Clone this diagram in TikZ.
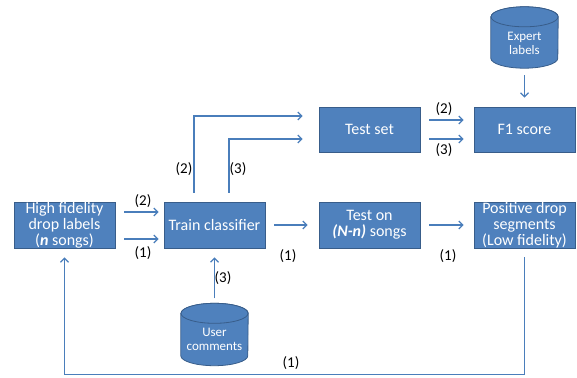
\documentclass[tikz,border=0pt]{standalone}
\usepackage{fontspec}
\setmainfont{Carlito}
\usetikzlibrary{arrows.meta,backgrounds}
\definecolor{boxfill}{HTML}{4F81BD}
\definecolor{boxline}{HTML}{385D8A}
\definecolor{arrowc}{HTML}{4A7EBB}

\begin{document}
\begin{tikzpicture}[x=1pt,y=-1pt,
  stepbox/.style={draw=boxline, fill=boxfill, line width=0.8pt,
    minimum width=101pt, minimum height=46pt, inner xsep=1pt, inner ysep=0pt,
    text=white, align=center, font=\fontsize{16}{16}\selectfont},
  tall/.style={inner ysep=-1.2pt},
  dbbody/.style={minimum width=67pt, minimum height=62pt, inner sep=0pt},
  dbshape/.style={draw=boxline, fill=boxfill, line width=0.8pt},
  dbtext/.style={text=white, align=center, inner sep=0pt,
    font=\fontsize{13}{13.5}\selectfont},
  flow/.style={draw=arrowc, line width=1.2pt,
    -{Straight Barb[length=4pt,width=8pt]}},
  tag/.style={text=black, inner sep=0pt, font=\fontsize{15}{16}\selectfont}
]
\useasboundingbox (0,0) rectangle (577,377);

% process boxes
\node[stepbox, tall] (hf) at (64.5,225) {High fidelity\\drop labels\\(\textbf{\textit{n}} songs)};
\node[stepbox] (train) at (214.5,225) {Train classifier};
\node[stepbox] (teston) at (369.5,225) {Test on\\\textbf{\textit{(N-n)}} songs};
\node[stepbox, tall] (pos) at (524.5,225) {Positive drop\\segments\\(Low fidelity)};
\node[stepbox, minimum height=45pt] (testset) at (369.5,129.5) {Test set};
\node[stepbox, minimum height=45pt] (f1) at (524.5,129.5) {F1 score};

% data stores
\node[dbbody] (user) at (214.5,334.5) {};
\node[dbbody, minimum height=61pt] (expert) at (524.5,37.5) {};
\node[dbtext] (usertxt) at ([yshift=-5pt]user.center) {User\\comments};
\node[dbtext] (experttxt) at ([yshift=-6pt]expert.center) {Expert\\labels};

\begin{scope}[on background layer]
  \foreach \d in {user,expert} {
    \path[dbshape] ([yshift=-10pt]\d.north west) -- ([yshift=10pt]\d.south west)
      arc[start angle=180, end angle=360, x radius=33.5pt, y radius=10pt]
      -- ([yshift=-10pt]\d.north east)
      arc[start angle=0, end angle=180, x radius=33.5pt, y radius=10pt] -- cycle;
    \path[dbshape] ([yshift=-10pt]\d.north) ellipse[x radius=33.5pt, y radius=10pt];
  }
\end{scope}

% connectors
\draw[flow, shorten <=9pt, shorten >=5pt] ([yshift=13pt]hf.east) -- ([yshift=13pt]train.west);
\draw[flow, shorten <=9pt, shorten >=5pt] ([yshift=-14pt]hf.east) -- ([yshift=-14pt]train.west);
\draw[flow, shorten <=9pt, shorten >=11pt] (train) -- (teston);
\draw[flow, shorten <=9pt, shorten >=10pt] (teston) -- (pos);
\draw[flow, shorten <=9pt, shorten >=10pt] ([yshift=9.5pt]testset.east) -- ([yshift=9.5pt]f1.west);
\draw[flow, shorten <=9pt, shorten >=10pt] ([yshift=-9.5pt]testset.east) -- ([yshift=-9.5pt]f1.west);
\draw[flow, shorten <=9pt, shorten >=16pt] ([xshift=-20.5pt]train.north) |- ([yshift=13.5pt]testset.west);
\draw[flow, shorten <=9pt, shorten >=16pt] ([xshift=14.5pt]train.north) |- ([yshift=-9.5pt]testset.west);
\draw[flow, shorten <=5pt, shorten >=9pt] (user.north) -- (train.south);
\draw[flow, shorten <=7pt, shorten >=9pt] (expert.south) -- (f1.north);
\draw[flow, shorten <=9pt, shorten >=9pt] (pos.south) -- ++(0,126) -| (hf.south);

% connector tags
\node[tag] (t1) at (143,201) {(2)};
\node[tag] (t2) at (143,253) {(1)};
\node[tag] (t3) at (288,256) {(1)};
\node[tag] (t4) at (448,256) {(1)};
\node[tag] (t5) at (444,109) {(2)};
\node[tag] (t6) at (444,150) {(3)};
\node[tag] (t7) at (184,169) {(2)};
\node[tag] (t8) at (238,169) {(3)};
\node[tag] (t9) at (223,278) {(3)};
\node[tag] (t10) at (291,363) {(1)};
\end{tikzpicture}
\end{document}
